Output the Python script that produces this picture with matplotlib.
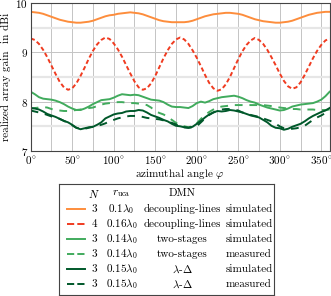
import numpy as np
import matplotlib
matplotlib.use("Agg")
import matplotlib.pyplot as plt
from matplotlib.lines import Line2D

plt.rcParams['font.family'] = ['cmr10', 'DejaVu Serif']
plt.rcParams['mathtext.fontset'] = 'cm'
plt.rcParams['axes.formatter.use_mathtext'] = True
plt.rcParams['font.size'] = 8

# azimuthal angle in degrees, 5 degree steps
phi = np.arange(0, 361, 5)

gain_n3_dl = [
    9.82, 9.81, 9.80, 9.78, 9.75, 9.72, 9.69, 9.66, 9.64, 9.62, 9.61, 9.60, 9.60,
    9.61, 9.62, 9.64, 9.67, 9.70, 9.73, 9.75, 9.76, 9.78, 9.79, 9.80, 9.81,
    9.80, 9.79, 9.77, 9.74, 9.71, 9.68, 9.65, 9.63, 9.62, 9.61, 9.61, 9.61,
    9.61, 9.62, 9.64, 9.67, 9.70, 9.73, 9.75, 9.77, 9.78, 9.79, 9.80, 9.80,
    9.79, 9.78, 9.76, 9.73, 9.70, 9.67, 9.65, 9.63, 9.62, 9.61, 9.60, 9.60,
    9.61, 9.62, 9.64, 9.67, 9.70, 9.73, 9.76, 9.78, 9.80, 9.81, 9.82, 9.82]

gain_n4_dl = [
    9.28, 9.25, 9.17, 9.05, 8.90, 8.73, 8.56, 8.40, 8.29, 8.24, 8.27, 8.37, 8.52,
    8.69, 8.87, 9.03, 9.16, 9.25, 9.30,
    9.27, 9.18, 9.06, 8.91, 8.74, 8.57, 8.41, 8.29, 8.24, 8.27, 8.37, 8.52,
    8.70, 8.88, 9.04, 9.17, 9.26, 9.30,
    9.26, 9.17, 9.04, 8.89, 8.72, 8.54, 8.38, 8.27, 8.22, 8.25, 8.35, 8.50,
    8.68, 8.86, 9.02, 9.15, 9.24, 9.29,
    9.25, 9.17, 9.05, 8.90, 8.74, 8.57, 8.42, 8.31, 8.26, 8.29, 8.39, 8.54,
    8.71, 8.88, 9.03, 9.15, 9.24, 9.28]

gain_ts_sim = [
    8.20, 8.15, 8.09, 8.06, 8.05, 8.04, 8.02, 7.99, 7.95, 7.90, 7.86, 7.83, 7.83,
    7.86, 7.90, 7.95, 7.99, 8.03, 8.04, 8.05, 8.08, 8.12, 8.15, 8.14, 8.13,
    8.14, 8.13, 8.10, 8.07, 8.04, 8.03, 8.02, 7.99, 7.94, 7.90, 7.89, 7.89,
    7.88, 7.87, 7.91, 7.97, 8.00, 7.98, 8.01, 8.05, 8.07, 8.09, 8.10, 8.11,
    8.12, 8.10, 8.07, 8.03, 8.00, 7.98, 7.94, 7.91, 7.88, 7.86, 7.84, 7.82,
    7.83, 7.86, 7.90, 7.92, 7.94, 7.95, 7.96, 7.97, 8.00, 8.04, 8.11, 8.20]

gain_ts_meas = [
    7.86, 7.87, 7.88, 7.89, 7.88, 7.85, 7.83, 7.82, 7.81, 7.81, 7.82, 7.83, 7.84,
    7.86, 7.87, 7.88, 7.91, 7.94, 7.96, 7.97, 7.98, 7.99, 7.99, 7.98, 7.97,
    7.97, 7.96, 7.95, 7.93, 7.88, 7.81, 7.77, 7.74, 7.69, 7.63, 7.57, 7.53,
    7.50, 7.48, 7.50, 7.56, 7.65, 7.73, 7.79, 7.84, 7.88, 7.90, 7.91, 7.92,
    7.93, 7.93, 7.93, 7.93, 7.93, 7.93, 7.93, 7.93, 7.92, 7.91, 7.90, 7.88,
    7.87, 7.86, 7.85, 7.85, 7.84, 7.84, 7.84, 7.84, 7.83, 7.83, 7.83, 7.84]

gain_yd_sim = [
    7.87, 7.86, 7.84, 7.80, 7.75, 7.72, 7.69, 7.65, 7.61, 7.58, 7.53, 7.47, 7.44,
    7.46, 7.48, 7.49, 7.53, 7.58, 7.66, 7.70, 7.74, 7.76, 7.77, 7.80, 7.81,
    7.81, 7.83, 7.82, 7.78, 7.73, 7.70, 7.67, 7.63, 7.60, 7.55, 7.51, 7.50,
    7.48, 7.47, 7.49, 7.55, 7.61, 7.68, 7.74, 7.78, 7.81, 7.80, 7.81, 7.83,
    7.82, 7.80, 7.78, 7.75, 7.72, 7.70, 7.68, 7.63, 7.58, 7.51, 7.47, 7.46,
    7.43, 7.45, 7.49, 7.52, 7.55, 7.60, 7.66, 7.71, 7.75, 7.79, 7.82, 7.87]

gain_yd_meas = [
    7.82, 7.80, 7.78, 7.76, 7.73, 7.70, 7.68, 7.65, 7.61, 7.57, 7.52, 7.47, 7.45,
    7.45, 7.47, 7.49, 7.51, 7.53, 7.56, 7.60, 7.63, 7.66, 7.68, 7.70, 7.71,
    7.71, 7.71, 7.69, 7.67, 7.66, 7.65, 7.64, 7.62, 7.59, 7.57, 7.54, 7.50,
    7.48, 7.47, 7.48, 7.50, 7.58, 7.66, 7.73, 7.78, 7.82, 7.84, 7.85, 7.85,
    7.84, 7.82, 7.78, 7.76, 7.73, 7.71, 7.69, 7.66, 7.63, 7.60, 7.55, 7.50,
    7.46, 7.45, 7.45, 7.46, 7.48, 7.51, 7.57, 7.63, 7.68, 7.72, 7.77, 7.81]

# legend table columns
col_n = ['3', '4', '3', '3', '3', '3']
col_r = [r'$0.1\lambda_0$', r'$0.16\lambda_0$', r'$0.14\lambda_0$',
         r'$0.14\lambda_0$', r'$0.15\lambda_0$', r'$0.15\lambda_0$']
col_dmn = ['decoupling-lines', 'decoupling-lines', 'two-stages',
           'two-stages', r'$\lambda$-$\Delta$', r'$\lambda$-$\Delta$']
col_kind = ['simulated', 'simulated', 'simulated', 'measured',
            'simulated', 'measured']

orange = '#fd8d3c'
red = '#f03b20'
lgreen = '#41ab5d'
dgreen = '#00582a'

series = [
    (gain_n3_dl, dict(color=orange, ls='-')),
    (gain_n4_dl, dict(color=red, ls=(0, (2.2, 1.4)))),
    (gain_ts_sim, dict(color=lgreen, ls='-')),
    (gain_ts_meas, dict(color=lgreen, ls=(0, (4, 3.5)))),
    (gain_yd_sim, dict(color=dgreen, ls='-')),
    (gain_yd_meas, dict(color=dgreen, ls=(0, (4, 3.5)))),
]

fig = plt.figure(figsize=(3.31, 2.96), dpi=100)
ax = fig.add_axes([0.0927, 0.490, 0.903, 0.500])

handles = []
for vals, st in series:
    ln, = ax.plot(phi, vals, lw=1.4, **st)
    handles.append(ln)

ax.set_xlim(0, 360)
ax.set_ylim(7, 10)
ax.set_xticks(np.arange(0, 351, 50))
ax.set_xticks(np.arange(25, 360, 50), minor=True)
ax.set_xticklabels([r'$%d^{\circ}$' % v for v in range(0, 351, 50)])
ax.set_yticks([7, 8, 9, 10])
ax.set_yticks([7.5, 8.5, 9.5], minor=True)
ax.grid(True, which='major', color='#c4c4c4', lw=0.7)
ax.grid(True, which='minor', axis='x', color='#c4c4c4', lw=0.7)
ax.grid(True, which='minor', axis='y', color='#e6e6e6', lw=1.6)
ax.set_axisbelow(True)
ax.tick_params(which='both', direction='in', length=0, pad=2, labelsize=8)
for s in ax.spines.values():
    s.set_color('#444444')
    s.set_linewidth(0.8)

ax.set_xlabel(r'azimuthal angle $\varphi$', labelpad=1)
ax.set_ylabel('realized array gain  in dBi', labelpad=3)

# legend drawn as a small table
lax = fig.add_axes([59 / 331, 1 - 295 / 296, 215 / 331, 111 / 296])
lax.set_xlim(59, 274)
lax.set_ylim(295, 184)
lax.set_xticks([])
lax.set_yticks([])
for s in lax.spines.values():
    s.set_color('#444444')
    s.set_linewidth(0.8)

hy = 193.5
lax.text(94, hy, r'$N$', ha='center', va='center')
lax.text(121.5, hy, r'$r_{\mathrm{uca}}$', ha='center', va='center')
lax.text(182.5, hy, 'DMN', ha='center', va='center')
for i, h in enumerate(handles):
    y = 209.3 + i * 15.0
    lax.add_line(Line2D([66.5, 85], [y, y], color=h.get_color(),
                        ls=h.get_linestyle(), lw=1.4))
    lax.text(94, y, col_n[i], ha='center', va='center')
    lax.text(121.5, y, col_r[i], ha='center', va='center')
    lax.text(182.5, y, col_dmn[i], ha='center', va='center')
    lax.text(226, y, col_kind[i], ha='left', va='center')

fig.savefig('out.png', dpi=100)
